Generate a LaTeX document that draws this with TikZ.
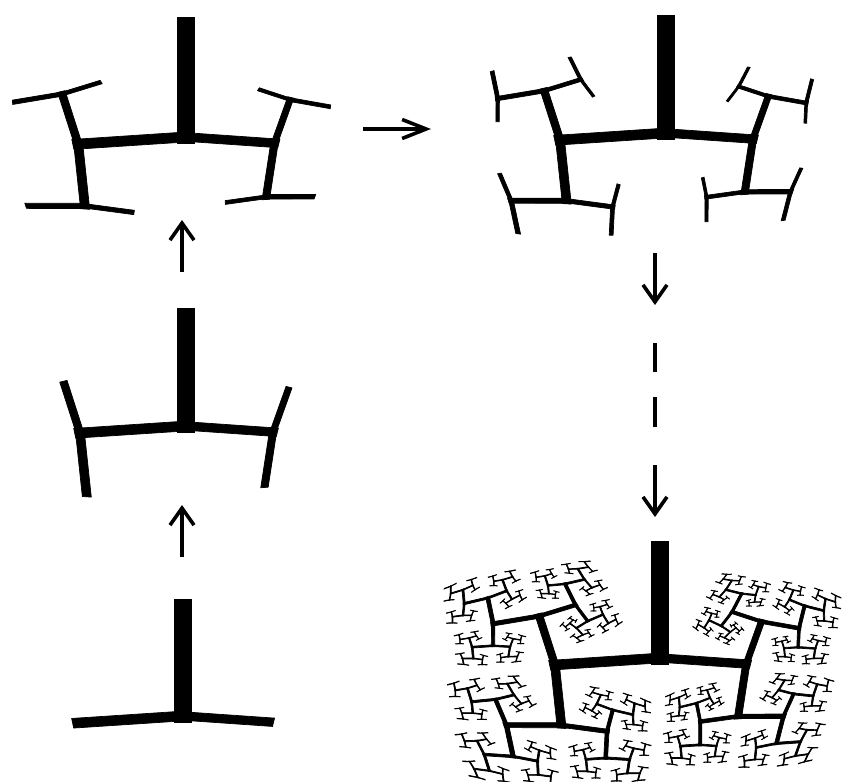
\documentclass[tikz,border=0pt]{standalone}
\usetikzlibrary{arrows.meta}

\tikzset{
  limb/.style={fill=black, draw=black, line width=0.7pt},
  stage arrow/.style={line width=3.6pt,
    -{Straight Barb[sharp, length=17pt, width=24pt]}},
  side arrow/.style={line width=3.6pt,
    -{Straight Barb[sharp, length=24pt, width=19pt]}},
  dash piece/.style={line width=3.6pt},
}

% One trunk in the local frame (junction at the origin, free end at (0,1)),
% followed by its two affine copies hung on the ends of the cross bar.
\newcommand\ifsTree[1]{%
  \path[limb] (-0.072,-0.05) rectangle (0.072,1);%
  \ifnum#1>0
    \pgfmathtruncatemacro\nextlevel{#1-1}%
    \begin{scope}[cm={-0.12,0.57,0.898,0.059,(-0.898,-0.059)}]\ifsTree{\nextlevel}\end{scope}%
    \begin{scope}[cm={0.125,0.495,-0.737,0.051,(0.737,-0.051)}]\ifsTree{\nextlevel}\end{scope}%
  \fi}

\begin{document}
\begin{tikzpicture}[x=1pt, y=1pt]
  \fill[white] (0,0) rectangle (845,-781);
  \useasboundingbox (0,0) rectangle (845,-781);

  % the successive stages of the tree
  \begin{scope}[shift={(183,-716)}, scale=117] \ifsTree{1} \end{scope}
  \begin{scope}[shift={(186,-426)}, scale=118] \ifsTree{2} \end{scope}
  \begin{scope}[shift={(186,-137)}, scale=120] \ifsTree{3} \end{scope}
  \begin{scope}[shift={(666,-133)}, scale=118] \ifsTree{4} \end{scope}
  \begin{scope}[shift={(660,-658)}, scale=117] \ifsTree{9} \end{scope}

  % arrow end points
  \coordinate (a0 tail) at (182,-557);
  \coordinate (a0 head) at (182,-505);
  \coordinate (a1 tail) at (182,-272);
  \coordinate (a1 head) at (182,-220);
  \coordinate (a2 tail) at (363,-129);
  \coordinate (a2 head) at (431,-129);
  \coordinate (a3 tail) at (655,-253);
  \coordinate (a3 head) at (655,-305);
  \coordinate (d1 top) at (655,-343);
  \coordinate (d1 bottom) at (655,-372);
  \coordinate (d2 top) at (655,-397);
  \coordinate (d2 bottom) at (655,-427);
  \coordinate (a4 tail) at (655,-465);
  \coordinate (a4 head) at (655,-517);

  \draw[stage arrow] (a0 tail) -- (a0 head);
  \draw[stage arrow] (a1 tail) -- (a1 head);
  \draw[side arrow] (a2 tail) -- (a2 head);
  \draw[stage arrow] (a3 tail) -- (a3 head);
  \draw[dash piece] (d1 top) -- (d1 bottom);
  \draw[dash piece] (d2 top) -- (d2 bottom);
  \draw[stage arrow] (a4 tail) -- (a4 head);
\end{tikzpicture}
\end{document}
